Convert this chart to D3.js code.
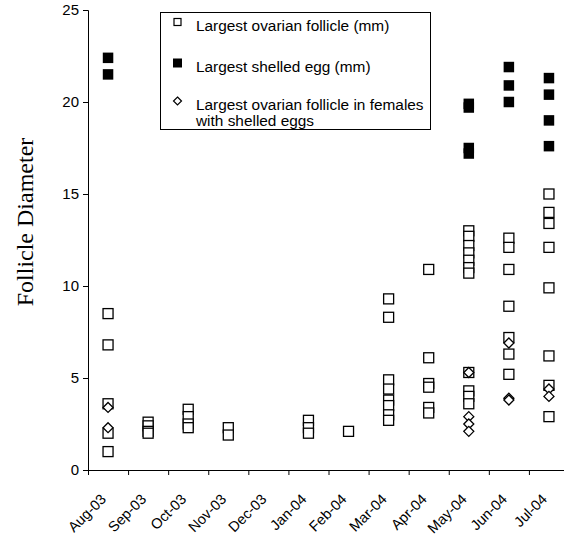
<!DOCTYPE html>
<html>
<head>
<meta charset="utf-8">
<script src="https://cdn.jsdelivr.net/npm/d3@7"></script>
<style>
  body { margin: 0; background: #fff; }
  svg { display: block; }
</style>
</head>
<body>
<svg id="chart" width="564" height="537"></svg>
<script>
// month categories on the x axis
const months = ["Aug-03", "Sep-03", "Oct-03", "Nov-03", "Dec-03", "Jan-04",
  "Feb-04", "Mar-04", "Apr-04", "May-04", "Jun-04", "Jul-04"];

// largest ovarian follicle (open squares), one list per month
const follicle = [
  [8.5, 6.8, 3.6, 2.0, 1.0],
  [2.6, 2.4, 2.1, 2.0],
  [3.3, 2.9, 2.5, 2.3],
  [2.3, 1.9],
  [],
  [2.7, 2.3, 2.0],
  [2.1],
  [9.3, 8.3, 4.9, 4.4, 3.8, 3.5, 3.0, 2.7],
  [10.9, 6.1, 4.7, 4.5, 3.4, 3.1],
  [13.0, 12.7, 12.2, 11.8, 11.4, 11.0, 10.7, 5.3, 4.3, 4.0, 3.6],
  [12.6, 12.1, 10.9, 8.9, 7.2, 6.3, 5.2],
  [15.0, 14.0, 13.4, 12.1, 9.9, 6.2, 4.6, 2.9]
];

// largest shelled egg (filled squares)
const shelledEgg = [
  [22.4, 21.5], [], [], [], [], [], [], [], [],
  [19.9, 19.7, 17.5, 17.2],
  [21.9, 20.9, 20.0],
  [21.3, 20.4, 19.0, 17.6]
];

// largest follicle in females with shelled eggs (diamonds)
const follicleWithEggs = [
  [3.4, 2.3], [], [], [], [], [], [], [], [],
  [5.3, 2.9, 2.5, 2.1],
  [6.9, 3.9, 3.8],
  [4.4, 4.0]
];

const yTicks = [0, 5, 10, 15, 20, 25];

const legendItems = [
  { kind: "open", lines: ["Largest ovarian follicle (mm)"] },
  { kind: "filled", lines: ["Largest shelled egg (mm)"] },
  { kind: "diamond", lines: ["Largest ovarian follicle in females", "with shelled eggs"] }
];

const svg = d3.select("#chart");
const plotLeft = 88, plotRight = 569, plotTop = 10, plotBottom = 470;
const sansFont = "'Liberation Sans', Arial, sans-serif";

const x = d3.scaleBand().domain(months).range([plotLeft, plotRight]);
const xEdge = d3.scaleLinear().domain([0, months.length]).range([plotLeft, plotRight]);
const y = d3.scaleLinear().domain([0, 25]).range([plotBottom, plotTop]);

// flatten the month lists into points
function toPoints(series) {
  const pts = [];
  series.forEach((vals, i) => vals.forEach(v => pts.push({ month: months[i], value: v })));
  return pts;
}

// y axis
const yAxis = svg.append("g")
  .attr("transform", `translate(${plotLeft},0)`)
  .call(d3.axisLeft(y).tickValues(yTicks).tickSize(5).tickPadding(4));
yAxis.select(".domain").attr("stroke", "#000");
yAxis.selectAll("text").attr("font-family", sansFont).attr("font-size", 15).attr("fill", "#000");

// x axis: ticks at month boundaries
const xAxis = svg.append("g")
  .attr("transform", `translate(0,${plotBottom})`)
  .call(d3.axisBottom(xEdge).tickValues(d3.range(months.length + 1)).tickSize(5).tickFormat(""));
xAxis.select(".domain").attr("stroke", "#000");

svg.append("g").selectAll("text")
  .data(months)
  .join("text")
  .attr("transform", d => `translate(${x(d) + x.bandwidth() / 2 - 1},${plotBottom + 30}) rotate(-45)`)
  .attr("text-anchor", "end")
  .attr("font-family", sansFont)
  .attr("font-size", 14.5)
  .attr("fill", "#000")
  .text(d => d);

// y axis title
svg.append("text")
  .attr("transform", `translate(33,${(plotTop + plotBottom) / 2 - 18}) rotate(-90)`)
  .attr("text-anchor", "middle")
  .attr("font-family", "'Liberation Serif', 'Times New Roman', serif")
  .attr("font-size", 24)
  .attr("fill", "#000")
  .text("Follicle Diameter");

const cx = d => x(d.month) + x.bandwidth() / 2;
const sq = 10, sqFilled = 10.5, dia = 5;
const diamondPath = r => `M0,${-r}L${r},0L0,${r}L${-r},0Z`;

// open squares
svg.append("g").selectAll("rect")
  .data(toPoints(follicle))
  .join("rect")
  .attr("x", d => cx(d) - sq / 2)
  .attr("y", d => y(d.value) - sq / 2)
  .attr("width", sq)
  .attr("height", sq)
  .attr("fill", "#fff")
  .attr("stroke", "#000")
  .attr("stroke-width", 1.3);

// filled squares
svg.append("g").selectAll("rect")
  .data(toPoints(shelledEgg))
  .join("rect")
  .attr("x", d => cx(d) - sqFilled / 2)
  .attr("y", d => y(d.value) - sqFilled / 2)
  .attr("width", sqFilled)
  .attr("height", sqFilled)
  .attr("fill", "#000");

// diamonds
svg.append("g").selectAll("path")
  .data(toPoints(follicleWithEggs))
  .join("path")
  .attr("transform", d => `translate(${cx(d)},${y(d.value)})`)
  .attr("d", diamondPath(dia))
  .attr("fill", "#fff")
  .attr("stroke", "#000")
  .attr("stroke-width", 1.3);

// legend
const legend = svg.append("g");
legend.append("rect")
  .attr("x", 160.5).attr("y", 12.5)
  .attr("width", 270).attr("height", 117)
  .attr("fill", "#fff").attr("stroke", "#000");

const rowY = [22, 63, 101];
legendItems.forEach((item, i) => {
  const g = legend.append("g").attr("transform", `translate(177.5,${rowY[i]})`);
  if (item.kind === "open") {
    g.append("rect").attr("x", -3.5).attr("y", -3.5).attr("width", 7).attr("height", 7)
      .attr("fill", "#fff").attr("stroke", "#000").attr("stroke-width", 1.2);
  } else if (item.kind === "filled") {
    g.append("rect").attr("x", -4.5).attr("y", -4.5).attr("width", 9).attr("height", 9)
      .attr("fill", "#000");
  } else {
    g.append("path").attr("d", diamondPath(4)).attr("fill", "#fff")
      .attr("stroke", "#000").attr("stroke-width", 1.2);
  }
  item.lines.forEach((line, j) => {
    legend.append("text")
      .attr("x", 196)
      .attr("y", rowY[i] + 9 + j * 15.5)
      .attr("font-family", sansFont)
      .attr("font-size", 15.4)
      .attr("fill", "#000")
      .text(line);
  });
});
</script>
</body>
</html>
